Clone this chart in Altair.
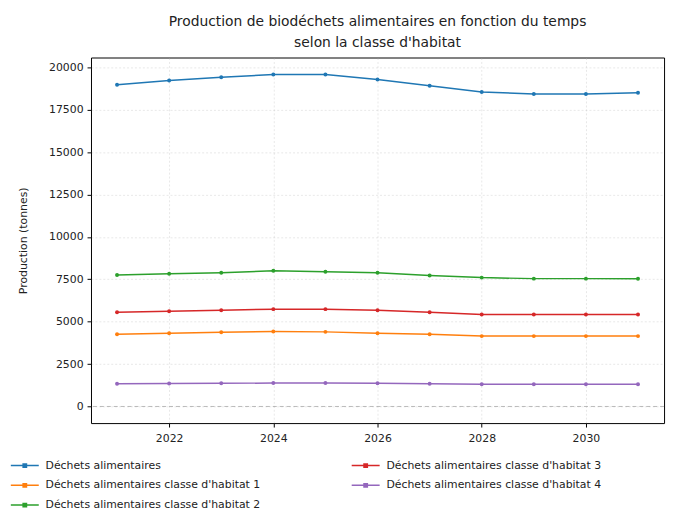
import altair as alt
import pandas as pd

years = list(range(2021, 2032))
series_names = [
    "Déchets alimentaires",
    "Déchets alimentaires classe d'habitat 1",
    "Déchets alimentaires classe d'habitat 2",
    "Déchets alimentaires classe d'habitat 3",
    "Déchets alimentaires classe d'habitat 4",
]
total = [18970, 19225, 19420, 19575, 19575, 19285, 18915, 18545, 18430, 18430, 18505]
classe1 = [4260, 4320, 4380, 4420, 4400, 4320, 4260, 4150, 4150, 4150, 4150]
classe2 = [7750, 7830, 7890, 8005, 7950, 7890, 7730, 7600, 7540, 7540, 7530]
classe3 = [5560, 5620, 5680, 5740, 5740, 5670, 5560, 5430, 5430, 5430, 5430]
classe4 = [1340, 1360, 1370, 1380, 1380, 1370, 1340, 1310, 1310, 1310, 1310]
colors = ["#1f77b4", "#ff7f0e", "#2ca02c", "#d62728", "#9467bd"]
x_ticks = [2022, 2024, 2026, 2028, 2030]
y_ticks = [0, 2500, 5000, 7500, 10000, 12500, 15000, 17500, 20000]

rows = []
for name, vals in zip(series_names, [total, classe1, classe2, classe3, classe4]):
    for yr, v in zip(years, vals):
        rows.append({"Année": yr, "Production": v, "Série": name})
df = pd.DataFrame(rows)

FONT = "DejaVu Sans"
symbol_path = "M-1,0L1,0M-0.12,-0.12L0.12,-0.12L0.12,0.12L-0.12,0.12Z"

x_enc = alt.X("Année:Q",
              scale=alt.Scale(domain=[2020.5, 2031.5], nice=False, zero=False),
              axis=alt.Axis(values=x_ticks, format="d", title=None, grid=True,
                            gridColor="#b0b0b0", gridOpacity=0.3, gridDash=[2, 2],
                            labelFontSize=11, tickSize=4, labelPadding=6,
                            domainColor="#000", tickColor="#000", labelColor="#222"))
y_enc = alt.Y("Production:Q",
              scale=alt.Scale(domain=[-980, 20580], nice=False, zero=False),
              axis=alt.Axis(values=y_ticks, format="d", title="Production (tonnes)", grid=True,
                            gridColor="#b0b0b0", gridOpacity=0.3, gridDash=[2, 2],
                            labelFontSize=11, tickSize=4, labelPadding=4,
                            titleFontSize=11, titleFontWeight="normal", titlePadding=20,
                            domainColor="#000", tickColor="#000", labelColor="#222",
                            titleColor="#222"))

color_enc = alt.Color("Série:N",
                      scale=alt.Scale(domain=series_names, range=colors),
                      legend=alt.Legend(title=None, orient="none", legendX=-82, legendY=398,
                                        columns=2, columnPadding=88, rowPadding=-1,
                                        symbolType=symbol_path, symbolSize=800,
                                        symbolStrokeWidth=1.5, labelFontSize=11,
                                        labelFont=FONT, labelColor="#222", labelOffset=6,
                                        labelLimit=400, padding=0))

zero_df = pd.DataFrame({"y0": [0]})
zero_rule = alt.Chart(zero_df).mark_rule(color="#aaa", strokeDash=[4, 3], strokeWidth=0.8).encode(
    y=alt.Y("y0:Q", scale=alt.Scale(domain=[-980, 20580], nice=False, zero=False)))

lines = alt.Chart(df).mark_line(strokeWidth=1.5, point=alt.OverlayMarkDef(size=16, filled=True)).encode(
    x=x_enc, y=y_enc, color=color_enc)

chart = alt.layer(zero_rule, lines).properties(
    width=580, height=370,
    autosize="none",
    padding={"left": 84, "top": 47, "right": 5, "bottom": 98},
    title=alt.TitleParams(
        text=["Production de biodéchets alimentaires en fonction du temps",
              "selon la classe d'habitat"],
        anchor="middle", fontSize=14, fontWeight="normal", font=FONT,
        color="#222", lineHeight=21, offset=8),
).configure_view(stroke="#000", strokeWidth=1).configure_axis(
    labelFont=FONT, titleFont=FONT, domain=False
)

chart.save("out.html", embed_options={"renderer": "svg", "actions": False})
